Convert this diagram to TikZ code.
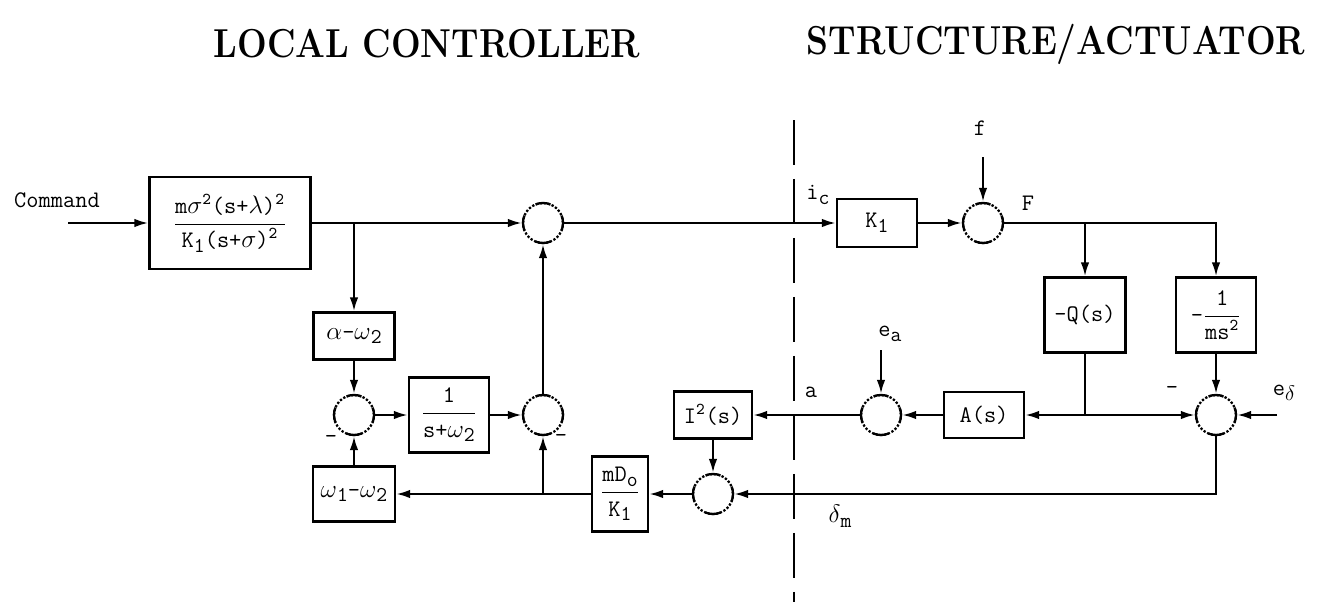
\documentclass[tikz,border=0pt]{standalone}
\usepackage{xcolor}
\usepackage{tikz}
\usetikzlibrary{
    positioning,
    arrows.meta,
    calc
}
\newcommand{\blkfrac}[2]{$\displaystyle\frac{\mbox{#1}}{\mbox{#2}}$}
\newcommand{\lowidx}[1]{\raisebox{-0.45ex}{\fontsize{12}{12}\selectfont #1}}

\begin{document}
\begin{tikzpicture}[
    x=0.02cm, y=-0.02cm,
    every node/.style={font=\fontsize{13.5}{16}\selectfont\ttfamily},
    title/.style={font=\fontsize{23}{26}\selectfont\bfseries},
    block/.style={rectangle, draw, line width=1.3pt, align=center, inner sep=1pt},
    sumj/.style={circle, draw, densely dotted, line width=1.3pt, minimum size=0.8cm, inner sep=0pt},
    lbl/.style={inner sep=1pt},
    arrow/.style={-{Latex[length=0.28cm, width=0.17cm]}, line width=1.3pt},
    divider/.style={line width=1.3pt, dash pattern=on 0.9cm off 0.28cm}
]
\useasboundingbox (0,0) rectangle (1317,608);

% titles
\node[title] (ttlctrl) at (427,44) {\scalebox{0.87}[1]{LOCAL CONTROLLER}};
\node[title] (ttlstruct) at (1056,44) {\scalebox{0.87}[1]{STRUCTURE/ACTUATOR}};

% divider between controller and structure
\coordinate (divtop) at (794,120);
\coordinate (divbot) at (794,602);
\draw[divider] (divtop) -- (divbot);

% local controller
\node[lbl] (cmdlabel) at (57,200) {Command};
\coordinate (cmdin) at (68,223);
\node[block, minimum width=3.22cm, minimum height=1.84cm] (prefilt) at (230,223) {\blkfrac{m$\sigma$\textsuperscript{2}(s+$\lambda$)\textsuperscript{2}}{K\lowidx{1}(s+$\sigma$)\textsuperscript{2}}};
\node[block, minimum width=1.62cm, minimum height=0.94cm] (aw2) at (354,336) {$\alpha$-$\omega$\lowidx{2}};
\node[sumj] (j1) at (354,415) {};
\node[block, minimum width=1.64cm, minimum height=1.1cm] (wfb) at (354,494) {$\omega$\lowidx{1}-$\omega$\lowidx{2}};
\node[block, minimum width=1.6cm, minimum height=1.5cm] (intg) at (449,415) {\blkfrac{1}{s+$\omega$\lowidx{2}}};
\node[sumj] (j2) at (543,415) {};
\node[sumj] (j3) at (543,223) {};
\node[block, minimum width=1.12cm, minimum height=1.5cm] (mdk) at (620,494) {\blkfrac{mD\lowidx{o}}{K\lowidx{1}}};
\node[block, minimum width=1.56cm, minimum height=0.94cm] (isq) at (713,415) {I\textsuperscript{2}(s)};
\node[sumj] (j4) at (713,494) {};

% structure / actuator
\node[block, minimum width=1.6cm, minimum height=0.96cm] (k1) at (877,223) {K\lowidx{1}};
\node[sumj] (j7) at (983,223) {};
\node[block, minimum width=1.62cm, minimum height=1.5cm] (qs) at (1085,315) {-Q(s)};
\node[block, minimum width=1.6cm, minimum height=1.5cm] (ims) at (1216,315) {-\blkfrac{1}{ms\textsuperscript{2}}};
\node[block, minimum width=1.6cm, minimum height=0.92cm] (as) at (984,415) {A(s)};
\node[sumj] (j5) at (881,415) {};
\node[sumj] (j6) at (1216,415) {};

% signal labels
\node[lbl] (iclabel) at (818,195) {i\lowidx{c}};
\node[lbl] (flabel) at (980,128) {f};
\node[lbl] (Flabel) at (1028,203) {F};
\node[lbl] (ealabel) at (890,334) {e\lowidx{a}};
\node[lbl] (alabel) at (811,392) {a};
\node[lbl] (edlabel) at (1284,393) {e\lowidx{$\delta$}};
\node[lbl] (dmlabel) at (840,516) {$\delta$\lowidx{m}};
\node[lbl] (minus1) at (331,439) {-};
\node[lbl] (minus2) at (561,438) {-};
\node[lbl] (minus3) at (1172,390) {-};

% free ends and branch points
\coordinate (fin) at (983,157);
\coordinate (eain) at (881,350);
\coordinate (edin) at (1277,415);
\coordinate (br1) at (354,223);
\coordinate (br2) at (543,494);
\coordinate (br3) at (1085,223);

% solid marks on the summing junctions
\foreach \j in {j1,j2,j3,j4,j5,j6,j7}
    \foreach \a in {0,90,180,270}
        \draw[line width=1.3pt] ([shift={(\a-22:0.4cm)}]\j.center) arc[start angle=\a-22, end angle=\a+22, radius=0.4cm];

\draw[arrow] (cmdin) -- (prefilt);
\draw[arrow] (prefilt) -- (j3);
\draw[arrow] (br1) -- (aw2);
\draw[arrow] (aw2) -- (j1);
\draw[arrow] (wfb) -- (j1);
\draw[arrow] (j1) -- (intg);
\draw[arrow] (intg) -- (j2);
\draw[arrow] (j2) -- (j3);
\draw[arrow] (mdk) -- (wfb);
\draw[arrow] (br2) -- (j2);
\draw[arrow] (j3) -- (k1);
\draw[arrow] (k1) -- (j7);
\draw[arrow] (fin) -- (j7);
\draw[arrow] (j7) -| (ims);
\draw[arrow] (br3) -- (qs);
\draw[arrow] (qs.south) |- (as.east);
\draw[arrow] (qs.south) |- (j6.west);
\draw[arrow] (ims) -- (j6);
\draw[arrow] (edin) -- (j6);
\draw[arrow] (j6.south) |- (j4.east);
\draw[arrow] (j4) -- (mdk);
\draw[arrow] (isq) -- (j4);
\draw[arrow] (as) -- (j5);
\draw[arrow] (eain) -- (j5);
\draw[arrow] (j5) -- (isq);

\end{tikzpicture}
\end{document}
